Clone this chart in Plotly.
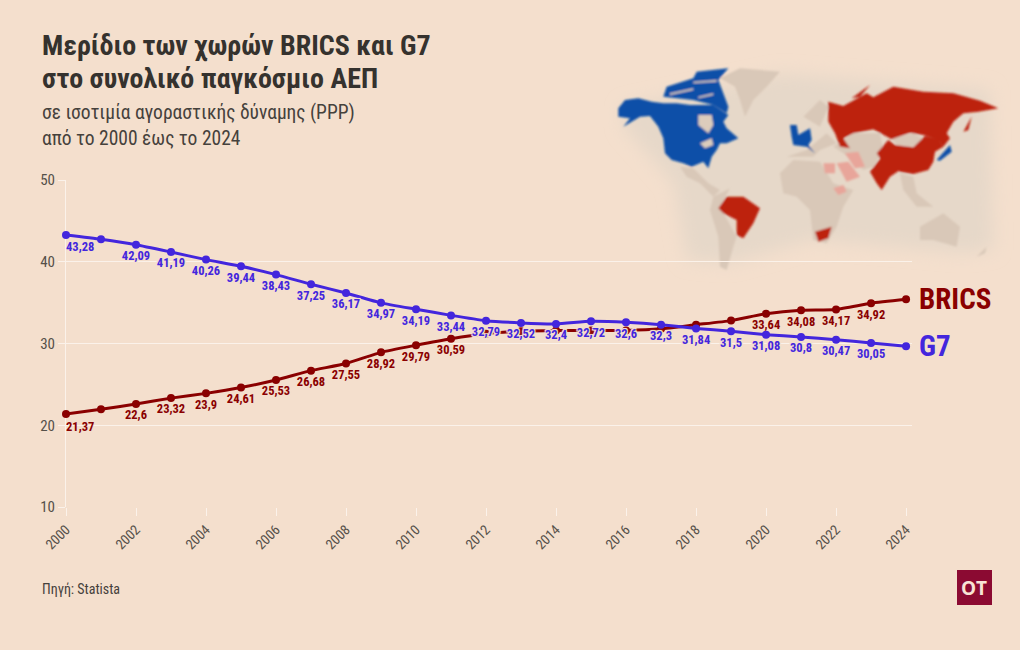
"""BRICS vs G7 share of world GDP (PPP), 2000-2024."""

import base64

import plotly.graph_objects as go

years = list(range(2000, 2025))
brics = [21.37, 21.95, 22.6, 23.32, 23.9, 24.61, 25.53, 26.68, 27.55, 28.92, 29.79, 30.59,
         31.2, 31.5, 31.6, 31.6, 31.6, 31.8, 32.3, 32.8, 33.64, 34.08, 34.17, 34.92, 35.4]
g7 = [43.28, 42.75, 42.09, 41.19, 40.26, 39.44, 38.43, 37.25, 36.17, 34.97, 34.19, 33.44,
      32.79, 32.52, 32.4, 32.72, 32.6, 32.3, 31.84, 31.5, 31.08, 30.8, 30.47, 30.05, 29.65]
# the first label of each series sits apart, see the annotation below
brics_labelled = [2002, 2003, 2004, 2005, 2006, 2007, 2008, 2009, 2010, 2011,
                  2020, 2021, 2022, 2023]
g7_labelled = [y for y in years if y not in (2000, 2001, 2024)]

BG = "#f4dfcd"
BRICS_COLOR = "#8a0000"
G7_COLOR = "#4326dd"
TEXT = "#555049"
FONT = "Roboto"
HALO = (f"1px 1px 0 {BG}, -1px -1px 0 {BG}, 1px -1px 0 {BG}, -1px 1px 0 {BG}, "
        f"0 0 3px {BG}")

# plot area in window pixels
LEFT, RIGHT, TOP, BOTTOM = 66, 912, 180, 507


def px_x(p):
    return (p - LEFT) / (RIGHT - LEFT)


def px_y(p):
    return (BOTTOM - p) / (BOTTOM - TOP)


def num(v):
    return str(v).replace(".", ",")


def labels(values, labelled):
    return [num(v) if y in labelled else "" for y, v in zip(years, values)]


# Decorative world map, rough outlines in a 1320x720 box
LAND = [
    [(420, 85), (480, 55), (600, 65), (560, 110), (520, 150), (495, 200), (480, 150), (465, 110)],
    [(300, 350), (340, 355), (385, 400), (420, 420), (400, 440), (360, 400), (320, 380)],
    [(400, 440), (450, 415), (420, 470), (470, 560), (460, 590), (440, 660), (420, 650),
     (415, 560), (390, 480)],
    [(600, 370), (640, 330), (720, 335), (760, 400), (820, 420), (790, 470), (770, 530),
     (740, 580), (700, 570), (690, 480), (650, 440), (610, 430)],
    [(620, 320), (680, 300), (740, 250), (770, 280), (720, 300), (700, 320)],
    [(670, 200), (720, 150), (745, 170), (720, 230)],
    [(760, 290), (820, 250), (900, 250), (910, 300), (880, 350), (850, 360), (790, 310)],
    [(935, 265), (1000, 250), (1035, 270), (1000, 290), (950, 285)],
    [(960, 370), (1000, 380), (1010, 430), (1060, 470), (1010, 470), (970, 420)],
    [(1020, 530), (1090, 490), (1140, 530), (1130, 590), (1060, 570), (1020, 570)],
    [(1190, 620), (1220, 590), (1215, 610)],
]
G7_LAND = [
    [(115, 175), (135, 150), (175, 145), (215, 155), (250, 160), (290, 160), (330, 165),
     (400, 165), (445, 195), (430, 215), (440, 235), (475, 265), (440, 280), (420, 280),
     (410, 300), (395, 320), (385, 355), (370, 335), (335, 350), (310, 340), (275, 330),
     (255, 310), (250, 265), (235, 230), (210, 198), (180, 200), (130, 230), (150, 205),
     (115, 200)],
    [(250, 140), (260, 110), (340, 85), (350, 65), (445, 55), (415, 90), (445, 170),
     (440, 190), (400, 165), (340, 150)],
    [(630, 225), (650, 225), (655, 255), (690, 235), (695, 270), (685, 285), (705, 310),
     (680, 290), (640, 285), (635, 260)],
    [(1070, 330), (1110, 285), (1115, 305), (1080, 332)],
]
MAP_GAPS = [
    [(355, 195), (395, 195), (400, 225), (385, 250), (355, 225)],
    [(360, 280), (395, 265), (400, 285), (375, 295)],
    [(270, 130), (340, 115), (340, 120), (270, 135)],
    [(340, 95), (410, 90), (410, 95), (340, 100)],
    [(355, 140), (400, 130), (400, 135), (355, 145)],
]
BRICS_LAND = [
    [(745, 155), (790, 168), (860, 130), (880, 142), (940, 110), (1030, 125), (1120, 130),
     (1200, 152), (1255, 175), (1195, 185), (1150, 190), (1120, 215), (1100, 250), (1110, 265),
     (1090, 290), (1075, 270), (1030, 255), (990, 248), (935, 268), (880, 238), (820, 250),
     (790, 265), (810, 295), (780, 290), (765, 250), (745, 215)],
    [(815, 145), (870, 105), (840, 140)],
    [(1150, 245), (1175, 200), (1165, 240)],
    [(890, 310), (925, 270), (945, 285), (1000, 292), (1035, 258), (1075, 268), (1090, 290),
     (1065, 305), (1060, 335), (1045, 360), (1000, 372), (960, 365), (925, 340), (900, 325)],
    [(870, 365), (905, 320), (940, 345), (960, 360), (930, 380), (905, 420), (890, 400)],
    [(415, 475), (440, 440), (490, 440), (540, 475), (520, 520), (490, 565), (470, 555),
     (470, 510), (430, 490)],
    [(705, 545), (755, 530), (745, 565), (715, 575)],
]
NEW_MEMBERS = [
    [(730, 340), (765, 340), (765, 370), (735, 370)],
    [(770, 340), (805, 335), (840, 380), (800, 395)],
    [(795, 310), (835, 305), (855, 350), (825, 355)],
    [(760, 415), (790, 405), (800, 425), (775, 435)],
]
BACKDROP = [(130, 170), (600, 70), (1230, 120), (1240, 600), (1150, 610), (700, 570),
            (450, 640), (320, 630), (280, 400), (130, 230)]


def polys(shapes, color):
    return "".join(
        f'<polygon fill="{color}" points="' + " ".join(f"{x},{y}" for x, y in s) + '"/>'
        for s in shapes
    )


map_svg = (
    '<svg xmlns="http://www.w3.org/2000/svg" width="1320" height="720" viewBox="0 0 1320 720">'
    '<defs><filter id="a" x="-20%" y="-20%" width="140%" height="140%"><feGaussianBlur stdDeviation="26"/></filter>'
    '<filter id="b" x="-5%" y="-5%" width="110%" height="110%"><feGaussianBlur stdDeviation="3"/></filter></defs>'
    f'<g filter="url(#a)">{polys([BACKDROP], "#e6d8c9")}</g>'
    f'<g filter="url(#b)">{polys(LAND, "#d9c8b8")}{polys(G7_LAND, "#0b4fa8")}'
    f'{polys(MAP_GAPS, "#dcccbc")}{polys(BRICS_LAND, "#bd2010")}{polys(NEW_MEMBERS, "#e8a59a")}</g></svg>'
)
map_uri = "data:image/svg+xml;base64," + base64.b64encode(map_svg.encode()).decode()

fig = go.Figure()

for name, values, labelled, color in [
    ("BRICS", brics, brics_labelled, BRICS_COLOR),
    ("G7", g7, g7_labelled, G7_COLOR),
]:
    fig.add_trace(go.Scatter(
        x=years, y=values, name=name, mode="lines+markers+text",
        line=dict(color=color, width=3, shape="spline", smoothing=0.5),
        marker=dict(color=color, size=8),
        text=labels(values, labelled),
        textposition="bottom center",
        textfont=dict(family=FONT, size=12.5, color=color, weight="bold", shadow=HALO),
        cliponaxis=False, showlegend=False,
    ))
    # first value label, starts at the point instead of centring under it
    fig.add_annotation(x=years[0], y=values[0], text=f"<b>{num(values[0])}</b>", showarrow=False,
                       xanchor="left", yanchor="middle", width=50, align="left", yshift=-12,
                       xshift=-2, font=dict(family=FONT, size=12.5, color=color))
    # series name at the end of the line
    fig.add_annotation(x=years[-1], y=values[-1], text=f"<b>{name}</b>", showarrow=False,
                       xanchor="left", width=90, align="left", xshift=11,
                       font=dict(family=FONT, size=29, color=color))
    fig.add_shape(type="line", xref="x", yref="y", xsizemode="pixel", xanchor=years[-1],
                  x0=7, x1=11, y0=values[-1], y1=values[-1],
                  line=dict(color="#d5c8ba", width=1))

fig.add_layout_image(source=map_uri, xref="paper", yref="paper", x=px_x(580), y=px_y(50),
                     sizex=440 / (RIGHT - LEFT), sizey=240 / (BOTTOM - TOP),
                     xanchor="left", yanchor="top", sizing="stretch", layer="below")

# logo
fig.add_shape(type="rect", xref="paper", yref="paper", x0=px_x(957), x1=px_x(992),
              y0=px_y(570), y1=px_y(605), fillcolor="#8b0a32", line_width=0)
fig.add_annotation(xref="paper", yref="paper", x=px_x(974.5), y=px_y(587.5), text="<b>OT</b>",
                   showarrow=False, xanchor="center", yanchor="middle",
                   font=dict(family="Open Sans", size=19, color="#f8e3d5"))

# headings and source; fixed box width keeps them flush left with the narrow font
for y_px, text, size, color in [
    (45, "<b>Μερίδιο των χωρών BRICS και G7</b>", 28, "#35322e"),
    (78, "<b>στο συνολικό παγκόσμιο ΑΕΠ</b>", 28, "#35322e"),
    (113, "σε ισοτιμία αγοραστικής δύναμης (PPP)", 19.5, "#45413c"),
    (138, "από το 2000 έως το 2024", 19.5, "#45413c"),
    (589, "Πηγή: Statista", 14, "#45413c"),
]:
    fig.add_annotation(xref="paper", yref="paper", x=px_x(40), y=px_y(y_px), text=text,
                       showarrow=False, xanchor="left", yanchor="middle", width=500, align="left",
                       font=dict(family=FONT, size=size, color=color))

fig.update_xaxes(range=[2000, 2024.17], tickvals=years[::2], tickangle=-45, ticks="outside",
                 ticklen=8, tickcolor="#fbf2ea", tickwidth=1, showgrid=False, zeroline=False,
                 tickfont=dict(family=FONT, size=14, color=TEXT))
fig.update_yaxes(range=[10, 50], tickvals=[10, 20, 30, 40, 50], ticks="outside", ticklen=7,
                 tickcolor="#fbf2ea", gridcolor="#fbf2ea", gridwidth=1, zeroline=False,
                 showline=True, linecolor="#fbf2ea", layer="below traces",
                 tickfont=dict(family=FONT, size=15, color=TEXT))

fig.update_layout(
    width=1020, height=650,
    margin=dict(l=LEFT, r=1020 - RIGHT, t=TOP, b=650 - BOTTOM, pad=0),
    paper_bgcolor=BG, plot_bgcolor="rgba(0,0,0,0)",
    font=dict(family=FONT),
)

# page margin off, narrow cut of the font as in the original
PAGE_CSS = ("document.body.style.margin='0';"
            "var s=document.createElement('style');"
            "s.textContent='.js-plotly-plot text[style*=Roboto]{font-stretch:75%}';"
            "document.head.appendChild(s);")

fig.write_html("out.html", post_script=PAGE_CSS, config=dict(displayModeBar=False))
